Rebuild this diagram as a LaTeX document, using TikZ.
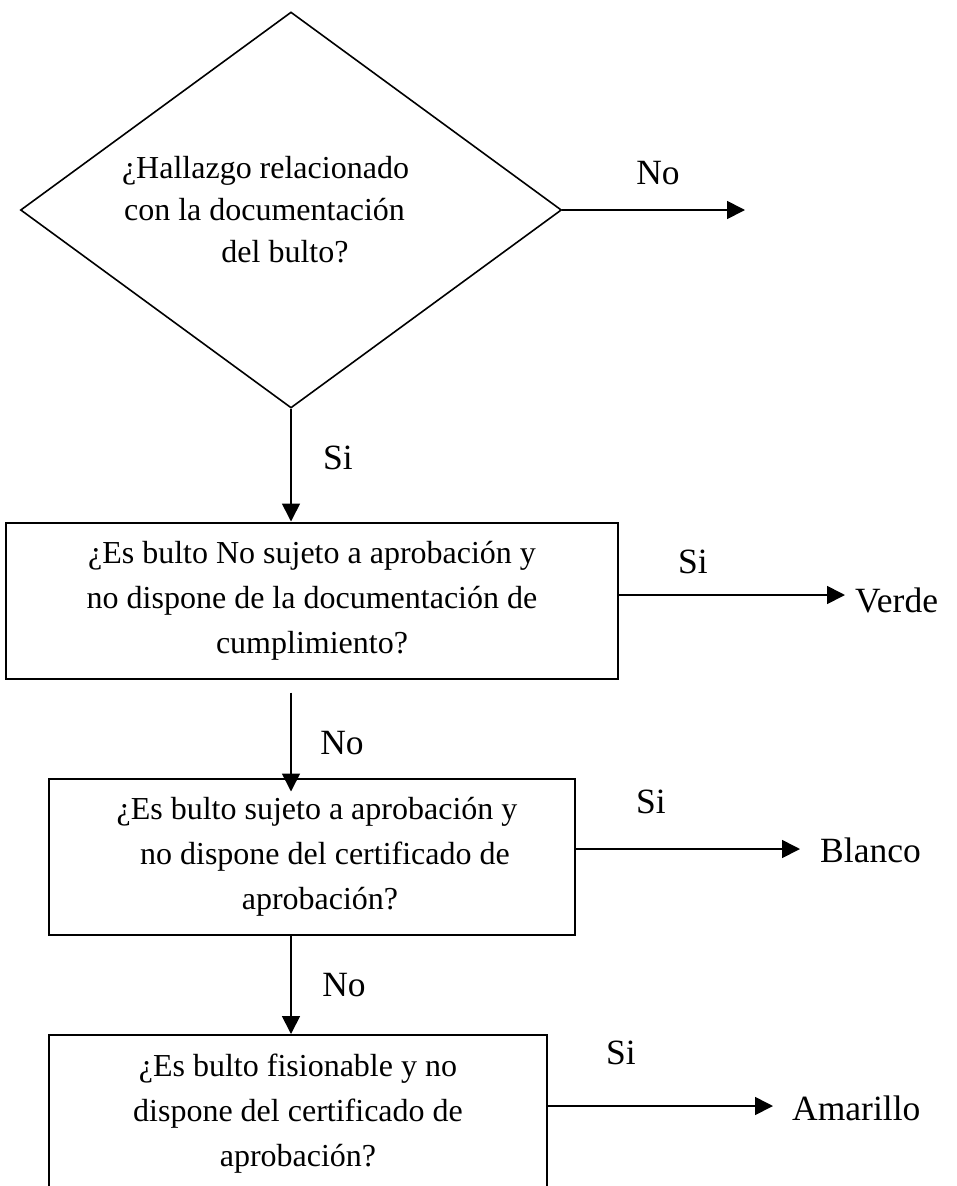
\documentclass[tikz,border=0pt]{standalone}
\usepackage{fontspec}
\setmainfont{Liberation Serif}
\usetikzlibrary{shapes.geometric,arrows.meta}

% text sizes used in the flow chart
\newcommand\flowtextfont{\fontsize{32}{45}\selectfont}
\newcommand\flowdiamfont{\fontsize{32}{42}\selectfont}
\newcommand\flowtagfont{\fontsize{35.5}{40}\selectfont}

\tikzset{
  question/.style={draw, rectangle, line width=2pt, inner sep=0pt,
                   align=center, font=\flowtextfont},
  decision/.style={draw, diamond, line width=1.6pt, inner sep=0pt,
                   align=center, font=\flowdiamfont},
  tag/.style={inner sep=0pt, font=\flowtagfont},
  arr/.style={line width=1.7pt, -{Triangle[length=18pt,width=18pt]}},
}

\begin{document}
\begin{tikzpicture}[x=1pt, y=-1pt]
  \useasboundingbox (0,0) rectangle (956,1186);

  % first decision
  \node[decision, minimum width=541pt, minimum height=396pt] (q1) at (291,210)
    {\hspace*{-51pt}¿Hallazgo relacionado\\
     \hspace*{-53pt}con la documentación\\
     \hspace*{-12pt}del bulto?};

  % question boxes
  \node[question, minimum width=612pt, minimum height=156pt] (b1) at (312,600.5)
    {¿Es bulto No sujeto a aprobación y\\
     no dispone de la documentación de\\
     cumplimiento?};
  \node[question, minimum width=526pt, minimum height=156pt] (b2) at (312,856.5)
    {\hspace*{10pt}¿Es bulto sujeto a aprobación y\\
     \hspace*{26pt}no dispone del certificado de\\
     \hspace*{16pt}aprobación?};
  \node[question, minimum width=498pt, minimum height=157pt] (b3) at (298,1113.5)
    {¿Es bulto fisionable y no\\
     dispone del certificado de\\
     aprobación?};

  % outcomes
  \node[tag, anchor=west] (verde) at (855,600) {Verde};
  \node[tag, anchor=west] (blanco) at (820,850) {Blanco};
  \node[tag, anchor=west] (amarillo) at (792,1108) {Amarillo};

  % branch labels
  \node[tag] (no1) at (658,173) {No};
  \node[tag] (si1) at (338,458) {Si};
  \node[tag] (si2) at (693,562) {Si};
  \node[tag] (no2) at (342,743) {No};
  \node[tag] (si3) at (651,802) {Si};
  \node[tag] (no3) at (344,985) {No};
  \node[tag] (si4) at (621,1053) {Si};

  % arrow ends
  \coordinate (tipNo) at (745,210);
  \coordinate (tipVerde) at (845,595);
  \coordinate (tipBlanco) at (800,849);
  \coordinate (tipAmarillo) at (773,1106);

  % connectors
  \draw[arr] (q1.east) -- (tipNo);
  \draw[arr] (q1.south) -- (q1.south |- b1.north);
  \draw[arr] (b1.east |- tipVerde) -- (tipVerde);
  \draw[arr, shorten <=13pt, shorten >=-14pt] (b1.south -| q1.south) -- (b2.north -| q1.south);
  \draw[arr] (b2.east |- tipBlanco) -- (tipBlanco);
  \draw[arr] (b2.south -| q1.south) -- (b3.north -| q1.south);
  \draw[arr] (b3.east |- tipAmarillo) -- (tipAmarillo);
\end{tikzpicture}
\end{document}
